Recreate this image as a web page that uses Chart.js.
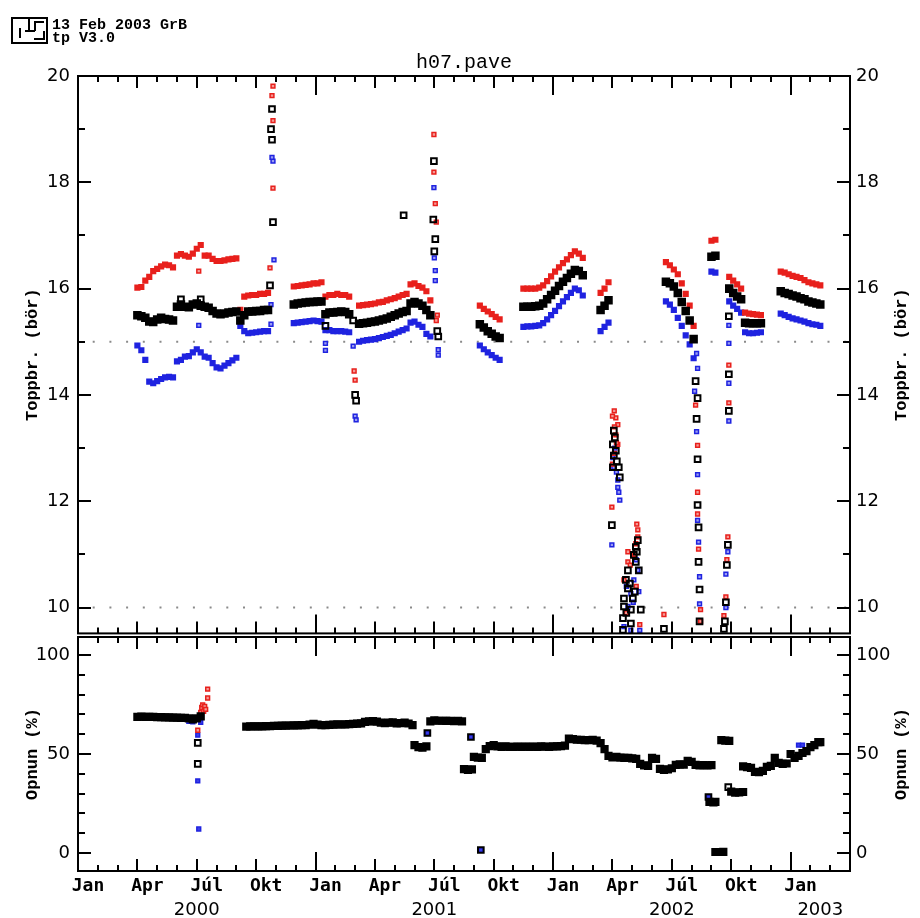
<!DOCTYPE html>
<html>
<head>
<meta charset="utf-8">
<title>h07.pave</title>
<script src="https://cdn.jsdelivr.net/npm/chart.js@4.4.0/dist/chart.umd.min.js"></script>
<style>
  body { margin: 0; background: #fff; }
  #wrap { position: relative; width: 920px; height: 918px; overflow: hidden; }
  #topChart { position: absolute; left: 0; top: 0; }
  #botChart { position: absolute; left: 0; top: 630px; }
</style>
</head>
<body>
<div id="wrap">
  <canvas id="topChart" width="920" height="640"></canvas>
  <canvas id="botChart" width="920" height="288"></canvas>
</div>
<script>
// x = months since 1 Jan 2000
const topDates = [
  3.0, 3.2, 3.4, 3.6, 3.8, 4.0, 4.2, 4.4, 4.6, 4.8, 5.0, 5.2, 5.4, 5.6, 5.8, 6.0, 6.2, 6.4, 6.6, 6.8, 7.0, 7.2, 7.4, 7.6, 7.8, 8.0,
  8.2, 8.4, 8.6, 8.8, 9.0, 9.2, 9.4, 9.6,
  10.9, 11.1, 11.3, 11.5, 11.7, 11.9, 12.1, 12.3, 12.5, 12.7, 12.9, 13.1, 13.3, 13.5, 13.7,
  14.2, 14.4, 14.6, 14.8, 15.0, 15.2, 15.4, 15.6, 15.8, 16.0, 16.2, 16.4, 16.6, 16.8, 17.0, 17.2, 17.4, 17.6, 17.8,
  20.3, 20.5, 20.7, 20.9, 21.1, 21.3,
  22.5, 22.7, 22.9, 23.1, 23.3, 23.5, 23.7, 23.9, 24.1, 24.3, 24.5, 24.7, 24.9, 25.1, 25.3, 25.5,
  26.4, 26.6, 26.8,
  29.7, 29.9, 30.1, 30.3, 30.5, 30.7, 30.9, 31.1,
  32.0, 32.2,
  32.9, 33.1, 33.3, 33.5, 33.7, 33.9, 34.1, 34.3, 34.5,
  35.5, 35.7, 35.9, 36.1, 36.3, 36.5, 36.7, 36.9, 37.1, 37.3, 37.5
];
const redTop = [
  16.02, 16.03, 16.15, 16.22, 16.33, 16.37, 16.42, 16.45, 16.44, 16.40, 16.62, 16.65, 16.62, 16.60, 16.66, 16.75, 16.82, 16.62, 16.62, 16.56, 16.52, 16.52, 16.53, 16.55, 16.56, 16.57,
  15.60, 15.85, 15.87, 15.88, 15.88, 15.90, 15.90, 15.92,
  16.04, 16.05, 16.06, 16.07, 16.08, 16.10, 16.10, 16.12, 15.85, 15.88, 15.88, 15.90, 15.88, 15.88, 15.85,
  15.68, 15.69, 15.70, 15.71, 15.72, 15.74, 15.75, 15.78, 15.80, 15.82, 15.85, 15.88, 15.90, 16.08, 16.10, 16.05, 16.02, 15.95, 15.78,
  15.68, 15.62, 15.57, 15.52, 15.47, 15.42,
  16.00, 16.00, 16.00, 16.00, 16.02, 16.06, 16.14, 16.23, 16.32, 16.40, 16.48, 16.55, 16.63, 16.70, 16.66, 16.58,
  15.92, 16.00, 16.12,
  16.50, 16.44, 16.36, 16.27, 16.10, 15.90, 15.68, 15.30,
  16.90, 16.92,
  16.22, 16.15, 16.08, 16.00, 15.55, 15.53, 15.52, 15.51, 15.50,
  16.32, 16.30, 16.27, 16.24, 16.22, 16.20, 16.16, 16.12, 16.10, 16.08, 16.06
];
const blackTop = [
  15.50, 15.48, 15.45, 15.38, 15.37, 15.42, 15.45, 15.43, 15.42, 15.40, 15.66, 15.70, 15.66, 15.65, 15.70, 15.72, 15.68, 15.66, 15.64, 15.58, 15.53, 15.52, 15.53, 15.55, 15.56, 15.57,
  15.40, 15.50, 15.57, 15.57, 15.58, 15.58, 15.60, 15.60,
  15.70, 15.72, 15.73, 15.74, 15.75, 15.75, 15.76, 15.76, 15.52, 15.55, 15.55, 15.56, 15.57, 15.56, 15.52,
  15.34, 15.35, 15.36, 15.37, 15.38, 15.40, 15.42, 15.44, 15.47, 15.50, 15.53, 15.56, 15.58, 15.72, 15.75, 15.72, 15.68, 15.60, 15.50,
  15.33, 15.27, 15.20, 15.15, 15.10, 15.07,
  15.66, 15.66, 15.66, 15.67, 15.68, 15.72, 15.80, 15.88, 15.96, 16.05, 16.13, 16.20, 16.28, 16.35, 16.33, 16.25,
  15.60, 15.68, 15.78,
  16.13, 16.10, 16.04, 15.92, 15.75, 15.58, 15.40, 15.05,
  16.60, 16.62,
  16.00, 15.92, 15.85, 15.80, 15.36, 15.35, 15.35, 15.35, 15.35,
  15.95, 15.92, 15.90, 15.87, 15.85, 15.82, 15.80, 15.76, 15.74, 15.72, 15.70
];
const blueTop = [
  14.93, 14.84, 14.66, 14.25, 14.22, 14.26, 14.30, 14.33, 14.34, 14.33, 14.63, 14.66, 14.72, 14.73, 14.80, 14.86, 14.80, 14.72, 14.70, 14.60, 14.52, 14.50, 14.55, 14.60, 14.65, 14.70,
  15.30, 15.20, 15.16, 15.17, 15.18, 15.19, 15.20, 15.20,
  15.35, 15.36, 15.37, 15.38, 15.39, 15.40, 15.39, 15.38, 15.22, 15.22, 15.20, 15.20, 15.20, 15.19, 15.18,
  15.00, 15.02, 15.03, 15.04, 15.05, 15.07, 15.09, 15.11, 15.13, 15.16, 15.19, 15.22, 15.25, 15.36, 15.38, 15.32, 15.28, 15.15, 15.10,
  14.93, 14.86, 14.80, 14.75, 14.70, 14.66,
  15.28, 15.29, 15.29, 15.30, 15.31, 15.35, 15.42, 15.50, 15.58, 15.67, 15.76, 15.84, 15.92, 16.00, 15.97, 15.87,
  15.20, 15.28, 15.36,
  15.76, 15.70, 15.60, 15.45, 15.30, 15.12, 14.95, 14.69,
  16.32, 16.30,
  15.76, 15.68, 15.62, 15.55, 15.18, 15.16, 15.16, 15.17, 15.18,
  15.53, 15.50, 15.47, 15.44, 15.42, 15.40, 15.38, 15.35, 15.33, 15.32, 15.30
];

// scattered readings (spikes and drops), [month, value]
const redExtra = [
  [6.1, 16.33], [9.7, 16.39], [9.85, 17.89], [9.85, 19.16], [9.8, 19.63], [9.85, 19.81],
  [13.95, 14.45], [14.0, 14.28],
  [17.98, 18.9], [17.98, 18.19], [18.05, 17.6], [18.1, 17.25], [18.15, 15.5], [18.1, 15.4],
  [27.09, 13.7], [27.17, 13.57], [27.27, 13.44], [27.17, 13.25], [27.27, 13.07], [26.97, 11.89],
  [27.0, 13.6], [27.1, 13.4], [27.2, 13.1], [27.1, 12.9], [27.0, 12.7],
  [27.78, 11.05], [27.78, 10.86], [28.23, 11.57], [28.28, 11.46], [28.28, 11.33], [28.18, 11.2],
  [28.1, 11.0], [27.9, 10.8], [28.2, 10.4], [27.7, 9.9],
  [27.58, 10.52], [28.38, 9.68], [29.6, 9.87],
  [31.2, 13.81], [31.3, 13.05], [31.3, 12.17], [31.3, 11.76], [31.35, 11.1], [31.45, 9.96], [31.45, 9.74],
  [32.88, 14.56], [32.88, 13.85], [32.83, 11.33], [32.78, 10.9], [32.73, 10.2], [32.63, 9.85]
];
const blackExtra = [
  [5.2, 15.8], [6.2, 15.8], [9.7, 16.06], [9.85, 17.25], [9.8, 18.8], [9.75, 19.0], [9.8, 19.38],
  [12.5, 15.3], [13.9, 15.4], [14.0, 14.0], [14.05, 13.89],
  [16.45, 17.38], [17.98, 18.4], [17.95, 17.3], [18.05, 16.93], [18.0, 16.7], [18.15, 15.2], [18.2, 15.1],
  [27.07, 13.33], [27.02, 13.07], [27.07, 12.86], [27.02, 12.64], [27.32, 12.64], [27.37, 12.45],
  [27.12, 13.2], [27.17, 12.95], [27.22, 12.75],
  [26.97, 11.55], [28.28, 11.27], [28.18, 11.14], [28.08, 10.99], [28.18, 10.86], [28.33, 10.7],
  [28.23, 11.05], [27.88, 10.45], [28.13, 10.3], [27.7, 9.9],
  [27.78, 10.7], [27.68, 10.52], [27.78, 10.36], [27.58, 10.17], [28.03, 10.17], [27.58, 10.02],
  [28.43, 9.96], [27.93, 9.96], [27.53, 9.8], [27.93, 9.7], [27.53, 9.58], [29.6, 9.6],
  [31.2, 14.26], [31.3, 13.94], [31.25, 13.55], [31.3, 12.79], [31.3, 11.93], [31.35, 11.51],
  [31.35, 10.86], [31.4, 10.34], [31.4, 9.74],
  [32.88, 15.48], [32.88, 14.39], [32.88, 13.7], [32.83, 11.18], [32.78, 10.8], [32.73, 10.1],
  [32.68, 9.74], [32.63, 9.6]
];
const blueExtra = [
  [6.1, 15.31], [9.75, 15.33], [9.75, 15.7], [9.9, 16.54], [9.85, 18.4], [9.8, 18.47],
  [12.5, 14.97], [12.5, 14.84], [13.9, 14.92], [14.0, 13.6], [14.05, 13.53],
  [17.98, 17.9], [18.0, 16.58], [18.05, 16.34], [18.05, 16.15], [18.2, 14.85], [18.2, 14.75],
  [27.02, 12.82], [27.07, 12.64], [27.27, 12.26], [27.32, 12.17], [27.37, 12.02], [26.97, 11.18],
  [27.12, 13.0], [27.2, 12.55], [27.27, 12.4],
  [28.28, 10.7], [28.33, 10.3], [28.08, 10.52], [27.93, 10.26], [27.78, 10.02], [27.58, 9.64],
  [28.2, 10.9], [28.05, 10.1], [27.7, 10.4],
  [27.93, 9.57], [28.38, 9.57],
  [31.15, 14.07], [31.25, 13.31], [31.3, 12.5], [31.3, 11.64], [31.35, 11.23], [31.4, 10.58],
  [31.4, 10.07], [31.3, 14.5], [31.25, 14.78],
  [32.88, 15.31], [32.88, 14.97], [32.88, 14.22], [32.88, 13.51], [32.83, 11.05], [32.73, 10.63], [32.73, 10.0]
];

// Opnun (%), [month, value]
const opnunBlack = [
  [3.0, 68.8], [3.2, 68.9], [3.4, 68.8], [3.6, 68.7], [3.8, 68.7], [4.0, 68.6], [4.2, 68.6], [4.4, 68.5],
  [4.6, 68.5], [4.8, 68.4], [5.0, 68.4], [5.2, 68.3], [5.4, 68.3], [5.6, 68.0], [5.8, 67.5], [6.0, 68.0],
  [6.2, 69.0],
  [8.5, 63.8], [8.7, 63.9], [8.9, 63.9], [9.1, 64.0], [9.3, 64.0], [9.5, 64.1], [9.7, 64.1], [9.9, 64.2],
  [10.1, 64.2], [10.3, 64.3], [10.5, 64.3], [10.7, 64.4], [10.9, 64.5], [11.1, 64.5], [11.3, 64.6],
  [11.5, 64.6], [11.7, 64.8], [11.9, 65.2], [12.1, 64.8], [12.3, 64.6], [12.5, 64.6], [12.7, 64.7],
  [12.9, 64.8], [13.1, 65.0], [13.3, 64.9], [13.5, 65.0], [13.7, 65.1], [13.9, 65.2], [14.1, 65.3],
  [14.3, 65.5], [14.5, 66.2], [14.7, 66.5], [14.9, 66.6], [15.1, 66.3], [15.3, 65.8], [15.5, 65.6],
  [15.7, 65.8], [15.9, 66.0], [16.1, 65.5], [16.3, 65.6], [16.5, 65.8], [16.7, 65.4], [16.9, 64.6],
  [17.0, 54.5], [17.2, 53.5], [17.4, 53.2], [17.6, 53.8],
  [17.8, 66.5], [18.0, 67.0], [18.2, 66.8], [18.4, 66.8], [18.6, 66.7], [18.8, 66.8], [19.0, 66.6],
  [19.2, 66.8], [19.4, 66.5],
  [19.5, 42.4], [19.7, 42.0], [19.9, 42.2], [20.0, 48.5], [20.2, 48.2], [20.4, 48.0],
  [20.6, 52.5], [20.8, 54.0], [21.0, 54.5], [21.2, 53.8], [21.4, 53.6], [21.6, 53.8], [21.8, 53.6],
  [22.0, 53.6], [22.2, 53.7], [22.4, 53.6], [22.6, 53.7], [22.8, 53.6], [23.0, 53.7], [23.2, 53.6],
  [23.4, 53.8], [23.6, 53.7], [23.8, 53.6], [24.0, 53.8], [24.2, 53.9], [24.4, 54.0], [24.6, 54.2],
  [24.8, 57.8], [25.0, 57.5], [25.2, 57.2], [25.4, 57.2], [25.6, 57.0], [25.8, 57.0], [26.0, 57.2],
  [26.2, 56.8], [26.4, 55.5], [26.6, 52.5],
  [26.8, 49.0], [27.0, 48.3], [27.2, 48.5], [27.4, 48.2], [27.6, 48.0], [27.8, 48.0], [28.0, 47.8],
  [28.2, 47.5], [28.4, 45.0], [28.6, 44.2], [28.8, 44.0], [29.0, 48.0], [29.2, 47.5], [29.4, 42.5],
  [29.6, 42.0], [29.8, 42.2], [30.0, 42.8], [30.2, 44.5], [30.4, 44.8], [30.6, 44.6], [30.8, 46.5],
  [31.0, 46.0], [31.2, 44.5], [31.4, 44.3], [31.6, 44.4], [31.8, 44.3], [32.0, 44.4],
  [31.9, 25.8], [32.1, 25.5], [32.2, 25.8], [32.2, 0.5], [32.4, 0.5], [32.6, 0.6],
  [32.5, 57.0], [32.7, 56.8], [32.9, 56.6],
  [33.0, 31.0], [33.2, 30.5], [33.4, 30.6], [33.6, 30.8], [33.6, 43.8], [33.8, 43.4], [34.0, 43.0],
  [34.2, 41.0], [34.4, 40.8], [34.6, 41.5], [34.8, 43.5], [35.0, 44.0], [35.2, 48.0], [35.4, 45.5],
  [35.6, 45.0], [35.8, 45.2], [36.0, 50.0], [36.2, 48.0], [36.4, 49.0], [36.6, 50.5], [36.8, 51.5],
  [37.0, 53.5], [37.2, 54.5], [37.4, 56.0], [37.5, 56.0]
];
const opnunBlackExtra = [
  [6.05, 55.6], [6.05, 45.0], [17.65, 60.6], [19.85, 58.6], [20.35, 1.5], [31.85, 28.3], [32.85, 33.3]
];
const opnunRed = [
  [6.05, 62.0], [6.2, 71.0], [6.25, 73.5], [6.3, 74.8], [6.35, 71.5], [6.4, 74.0], [6.45, 72.5],
  [6.55, 78.3], [6.55, 82.8]
];
const opnunBlue = [
  [3.4, 69.0], [5.6, 66.5], [5.8, 66.2], [6.05, 59.6], [6.05, 36.4], [6.1, 12.1], [6.2, 66.0],
  [17.65, 60.6], [19.85, 58.6], [20.35, 1.5], [31.85, 28.3], [36.4, 54.5], [36.6, 54.5]
];

const monthNames = ["Jan", "Apr", "Júl", "Okt"];
const yearLabels = ["2000", "2001", "2002", "2003"];
const yearPos = [6, 18, 30, 37.5];
const topLabels = [10, 12, 14, 16, 18, 20];
const topMinor = [10, 11, 12, 13, 14, 15, 16, 17, 18, 19];
const botLabels = [0, 50, 100];
const botMinor = [0, 10, 20, 30, 40, 50, 60, 70, 80, 90, 100];
const dottedLevels = [15, 10];

const RED = "#e8201c";
const BLUE = "#1f23e0";

function toPoints(xs, ys) {
  return xs.map((x, i) => ({ x: x, y: ys[i] }));
}
function pairs(list) {
  return list.map((p) => ({ x: p[0], y: p[1] }));
}

// black open squares; the dense bands get a solid fill
function blackSet(data, fill, r) {
  return {
    data: data, pointStyle: "rect", pointRadius: r, borderWidth: 2,
    borderColor: "#000", backgroundColor: fill, order: 0,
  };
}
function colorSet(data, color, fill, order, r) {
  return {
    data: data, pointStyle: "rect", pointRadius: r, borderWidth: 1.5,
    borderColor: color, backgroundColor: fill, order: order,
  };
}

function yAxis(pos, min, max, labels, width, pad) {
  return {
    type: "linear", position: pos, min: min, max: max,
    grid: { display: false, drawTicks: false },
    border: { display: false },
    ticks: { color: "#000", padding: pad, font: { family: "DejaVu Sans", size: 18 } },
    afterBuildTicks: (s) => { s.ticks = labels.map((v) => ({ value: v })); },
    afterFit: (s) => { s.width = width; s.paddingTop = 0; s.paddingBottom = 0; },
  };
}

function drawHeader(ctx) {
  ctx.lineWidth = 2;
  ctx.strokeRect(12, 18, 35, 25);
  ctx.beginPath();
  ctx.moveTo(20, 28); ctx.lineTo(20, 38);
  ctx.moveTo(29, 18); ctx.lineTo(29, 31);
  ctx.moveTo(25, 31); ctx.lineTo(35, 31);
  ctx.moveTo(44, 22); ctx.lineTo(35, 22); ctx.lineTo(35, 31);
  ctx.moveTo(44, 31); ctx.lineTo(44, 39); ctx.lineTo(34, 39);
  ctx.stroke();
  ctx.font = 'bold 15px "Liberation Mono"';
  ctx.textAlign = "left";
  ctx.textBaseline = "alphabetic";
  ctx.fillText("13 Feb 2003 GrB", 52, 29);
  ctx.fillText("tp V3.0", 52, 42);
  ctx.font = '20px "Liberation Mono"';
  ctx.textAlign = "center";
  ctx.fillText("h07.pave", 464, 68);
}

function framePlugin(cfg) {
  return {
    id: "frame",
    afterDraw(chart) {
      const ctx = chart.ctx;
      const a = chart.chartArea;
      const xs = chart.scales.x;
      const ys = chart.scales.y;
      ctx.save();
      ctx.strokeStyle = "#000";
      ctx.fillStyle = "#000";
      ctx.lineWidth = 2;
      ctx.beginPath();
      for (let m = 1; m < 39; m++) {
        const x = Math.round(xs.getPixelForValue(m));
        const len = m % 12 === 0 ? 19 : m % 3 === 0 ? 12 : 6;
        ctx.moveTo(x, a.top); ctx.lineTo(x, a.top + len);
        ctx.moveTo(x, a.bottom); ctx.lineTo(x, a.bottom - len);
      }
      cfg.minor.forEach((v) => {
        const y = Math.round(ys.getPixelForValue(v));
        const len = cfg.major.includes(v) ? 13 : 7;
        ctx.moveTo(a.left, y); ctx.lineTo(a.left + len, y);
        ctx.moveTo(a.right, y); ctx.lineTo(a.right - len, y);
      });
      ctx.stroke();
      ctx.strokeRect(a.left, a.top, a.right - a.left, a.bottom - a.top);

      // axis titles, both read bottom to top
      ctx.font = 'bold 17px "Liberation Mono"';
      ctx.textAlign = "center";
      ctx.textBaseline = "middle";
      const cy = (a.top + a.bottom) / 2;
      [33, 902].forEach((tx) => {
        ctx.save();
        ctx.translate(tx, cy);
        ctx.rotate(-Math.PI / 2);
        ctx.fillText(cfg.title, 0, 0);
        ctx.restore();
      });

      if (cfg.header) drawHeader(ctx);
      if (cfg.years) {
        ctx.font = '18px "DejaVu Sans"';
        ctx.textAlign = "center";
        ctx.textBaseline = "alphabetic";
        yearLabels.forEach((t, i) => {
          ctx.fillText(t, xs.getPixelForValue(yearPos[i]), 285);
        });
      }
      ctx.restore();
    },
  };
}

const dotted = dottedLevels.map((v) => ({
  data: [{ x: 0, y: v }, { x: 39, y: v }],
  showLine: true, pointRadius: 0, borderColor: "#8a8a8a", borderWidth: 2,
  borderDash: [2, 14.7], borderDashOffset: 2, order: 5,
}));

new Chart(document.getElementById("topChart"), {
  type: "scatter",
  data: {
    datasets: [
      blackSet(toPoints(topDates, blackTop), "#000", 4.6),
      blackSet(pairs(blackExtra), "rgba(0,0,0,0)", 4),
      colorSet(toPoints(topDates, redTop), RED, RED, 1, 3.3),
      colorSet(pairs(redExtra), RED, "#f49a96", 1, 2.7),
      colorSet(toPoints(topDates, blueTop), BLUE, BLUE, 2, 3.3),
      colorSet(pairs(blueExtra), BLUE, "#9a9cf2", 2, 2.7),
    ].concat(dotted),
  },
  options: {
    responsive: false,
    devicePixelRatio: 1,
    animation: false,
    events: [],
    layout: { padding: { top: 76, bottom: 3, left: 0, right: 0 } },
    plugins: { legend: { display: false }, tooltip: { enabled: false }, title: { display: false } },
    scales: {
      x: { type: "linear", min: 0, max: 39, display: false },
      y: yAxis("left", 9.514, 20, topLabels, 78, 8),
      y2: yAxis("right", 9.514, 20, topLabels, 70, 6),
    },
  },
  plugins: [framePlugin({ minor: topMinor, major: topLabels, title: "Toppbr. (bör)", header: true })],
});

new Chart(document.getElementById("botChart"), {
  type: "scatter",
  data: {
    datasets: [
      blackSet(pairs(opnunBlack), "#000", 4.4),
      blackSet(pairs(opnunBlackExtra), "rgba(0,0,0,0)", 4),
      colorSet(pairs(opnunRed), RED, "#f49a96", 1, 2.7),
      colorSet(pairs(opnunBlue), BLUE, "#3c3fe8", 2, 2.7),
    ],
  },
  options: {
    responsive: false,
    devicePixelRatio: 1,
    animation: false,
    events: [],
    layout: { padding: { top: 7, bottom: 0, left: 0, right: 0 } },
    plugins: { legend: { display: false }, tooltip: { enabled: false }, title: { display: false } },
    scales: {
      x: {
        type: "linear", position: "bottom", min: 0, max: 39,
        grid: { display: false, drawTicks: false },
        border: { display: false },
        ticks: {
          color: "#000", padding: 5, labelOffset: 10, autoSkip: false, maxRotation: 0,
          font: { family: "DejaVu Sans Mono", size: 18, weight: "bold" },
          callback: (v) => monthNames[(v / 3) % 4],
        },
        afterBuildTicks: (s) => {
          const t = [];
          for (let m = 0; m <= 36; m += 3) t.push({ value: m });
          s.ticks = t;
        },
        afterFit: (s) => { s.height = 47; s.paddingLeft = 0; s.paddingRight = 0; },
      },
      y: yAxis("left", -9.1, 109.1, botLabels, 78, 8),
      y2: yAxis("right", -9.1, 109.1, botLabels, 70, 6),
    },
  },
  plugins: [framePlugin({ minor: botMinor, major: botLabels, title: "Opnun (%)", years: true })],
});
</script>
</body>
</html>
